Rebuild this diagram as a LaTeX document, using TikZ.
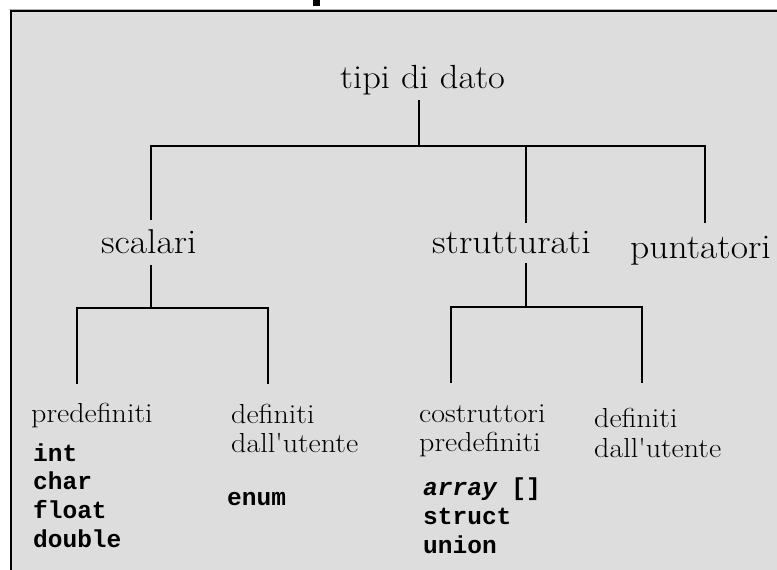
\documentclass[tikz,border=0pt]{standalone}
\usepackage{fontspec}
\usepackage{graphicx}
\newfontfamily\monob{Liberation Mono}[BoldFont={Liberation Mono Bold},BoldItalicFont={Liberation Mono Bold Italic}]
\definecolor{bg}{HTML}{DDDDDD}
\newcommand{\wide}[1]{\scalebox{1.09}[1]{#1}}
\tikzset{
  lvl0/.style={inner sep=0pt, anchor=base west, font=\fontsize{33.5}{38}\selectfont},
  lvl1/.style={inner sep=0pt, anchor=base west, font=\fontsize{34.5}{40}\selectfont},
  lvl2/.style={inner sep=0pt, anchor=base west, font=\fontsize{27.5}{30}\selectfont},
  code/.style={inner sep=0pt, anchor=base west, font=\monob\bfseries\fontsize{24.5}{28}\selectfont},
  conn/.style={draw=black, line width=1.5pt}
}
\begin{document}
\begin{tikzpicture}[x=1pt,y=-1pt]
\useasboundingbox (0,0) rectangle (777,570);
\begin{scope}
\clip (0,0) rectangle (777,570);
\fill[black] (313,0) rectangle (320,6);
\draw[black!30, line width=1pt] (9,9) -- (800,9);
\draw[fill=bg, draw=black, line width=2pt] (11,11) rectangle (800,600);
\end{scope}

% level 0
\node[lvl0] (root) at (340,88) {\wide{tipi di dato}};
% level 1
\node[lvl1] (scal) at (101,253) {\wide{scalari}};
\node[lvl1] (strut) at (432,253) {\wide{strutturati}};
\node[lvl1] (punt) at (630,258) {\wide{puntatori}};
% level 2
\node[lvl2] (pre) at (31,422) {\wide{predefiniti}};
\node[lvl2] (def1a) at (231,423) {\wide{definiti}};
\node[lvl2] (def1b) at (231,452) {\wide{dall\textquotesingle utente}};
\node[lvl2] (cosa) at (419,422) {\wide{costruttori}};
\node[lvl2] (cosb) at (419,451) {\wide{predefiniti}};
\node[lvl2] (def2a) at (594,427) {\wide{definiti}};
\node[lvl2] (def2b) at (594,457) {\wide{dall\textquotesingle utente}};
% code
\node[code] (cint) at (33,461) {int};
\node[code] (cchar) at (33,489) {char};
\node[code] (cfloat) at (33,518) {float};
\node[code] (cdouble) at (33,547) {double};
\node[code] (cenum) at (227,505) {enum};
\node[code] (carray) at (423,495) {\itshape array\upshape{} []};
\node[code] (cstruct) at (423,524) {struct};
\node[code] (cunion) at (423,553) {union};

% connector points
\coordinate (r0) at (419,100);
\coordinate (bus0) at (419,146);
\coordinate (s0) at (151,220);
\coordinate (t0) at (526,223);
\coordinate (p0) at (705,223);
\coordinate (s1) at (151,265);
\coordinate (bus1) at (151,308);
\coordinate (a1) at (77,384);
\coordinate (b1) at (268,384);
\coordinate (t1) at (526,263);
\coordinate (bus2) at (526,307);
\coordinate (a2) at (451,383);
\coordinate (b2) at (642,383);

\draw[conn] (r0) -- (bus0);
\draw[conn] (s0) |- (bus0) -| (p0);
\draw[conn] (bus0) -| (t0);
\draw[conn] (s1) -- (bus1);
\draw[conn] (a1) |- (bus1) -| (b1);
\draw[conn] (t1) -- (bus2);
\draw[conn] (a2) |- (bus2) -| (b2);
\end{tikzpicture}
\end{document}
